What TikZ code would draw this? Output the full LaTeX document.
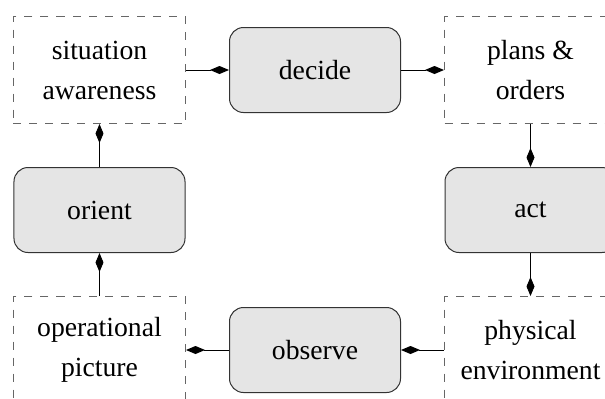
\documentclass[tikz,border=0pt]{standalone}
\usepackage{fontspec}
\setmainfont{Liberation Serif}
\usepackage{tikz}
\usetikzlibrary{positioning, arrows.meta}
\tikzstyle{stage}  = [rectangle, rounded corners=7pt, minimum width=85.5pt, minimum height=42.5pt, text centered, draw=black!80, fill=black!10, line width=0.5pt]
\tikzstyle{data}   = [rectangle, minimum width=86pt, minimum height=53.5pt, align=center, draw=black!60, dash pattern=on 4pt off 4pt, line width=0.5pt]
\tikzstyle{arrow}  = [line width=0.5pt,->,>={Diamond[length=9.5pt,width=4pt]}]

\begin{document}
\begin{tikzpicture}[node distance=21.5pt, font=\fontsize{13.85}{20}\selectfont]
      \useasboundingbox (-49.75pt,35pt) rectangle (252.75pt,-164pt);

      \node (sa)      [data]                      {situation\\awareness};
      \node (decide)  [stage, right=of sa]        {decide};
      \node (po)      [data, right=of decide]     {plans \&\\orders};

      \node (orient)  [stage, below=of sa]        {orient};
      \node (act)     [stage, below=of po]        {act};

      \node (opic)    [data, below=of orient]     {operational\\picture};
      \node (observe) [stage, right=of opic]      {observe};
      \node (env)     [data, right=of observe]    {physical\\environment};

      \draw [arrow] (sa) -- (decide);
      \draw [arrow] (decide) -- (po);
      \draw [arrow] (po) -- (act);
      \draw [arrow] (act) -- (env);
      \draw [arrow] (env) -- (observe);
      \draw [arrow] (observe) -- (opic);
      \draw [arrow] (opic) -- (orient);
      \draw [arrow] (orient) -- (sa);

    \end{tikzpicture}
\end{document}
